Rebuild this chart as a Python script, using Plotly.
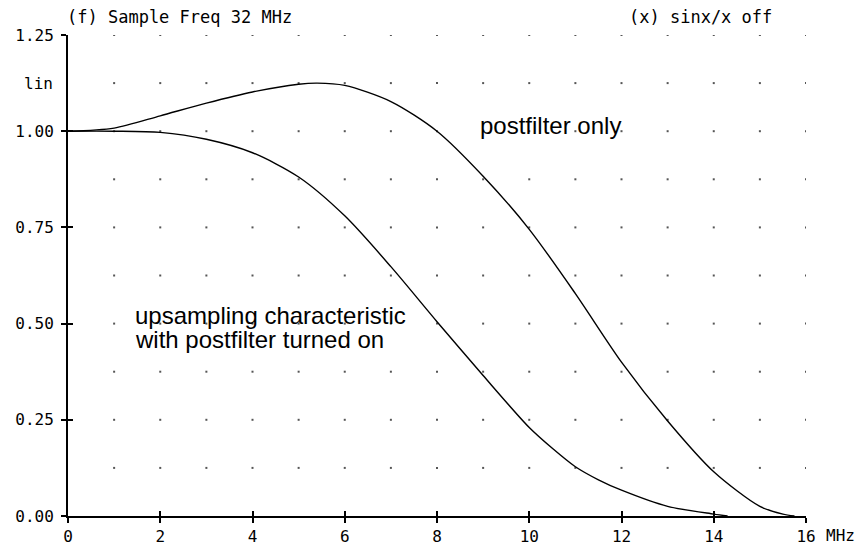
import numpy as np
import plotly.graph_objects as go

# --- data ---
freq_post = [0, 1, 2, 3, 4, 5, 5.4, 6, 7, 8, 9, 10, 11, 12, 13, 14, 15, 15.5, 15.75]
gain_post = [1.0, 1.008, 1.04, 1.073, 1.102, 1.122, 1.125, 1.119, 1.077, 1.0, 0.883,
             0.745, 0.578, 0.40, 0.247, 0.115, 0.025, 0.005, 0.0]

freq_up = [0, 1, 2, 3, 4, 5, 6, 7, 8, 9, 10, 10.5, 11, 11.5, 12, 13, 14, 14.3]
gain_up = [1.0, 1.0, 0.997, 0.979, 0.944, 0.881, 0.78, 0.648, 0.505, 0.365,
           0.23, 0.176, 0.128, 0.094, 0.067, 0.025, 0.005, 0.0]

x_ticks = [0, 2, 4, 6, 8, 10, 12, 14, 16]
y_ticks = [0.0, 0.25, 0.5, 0.75, 1.0, 1.25]
y_tick_text = ["0.00", "0.25", "0.50", "0.75", "1.00", "1.25"]
grid_x = list(range(1, 17))
grid_y = [0.125 * k for k in range(1, 11)]

mono = "DejaVu Sans Mono"
sans = "Liberation Sans, Arial, sans-serif"

fig = go.Figure()

gx, gy = np.meshgrid(grid_x, grid_y)
fig.add_trace(go.Scatter(x=gx.ravel(), y=gy.ravel(), mode="markers",
                         marker=dict(symbol="square", size=2, color="#555555",
                                     line=dict(width=0)),
                         hoverinfo="skip", showlegend=False))

fig.add_trace(go.Scatter(x=freq_post, y=gain_post, mode="lines",
                         line=dict(color="black", width=1.4, shape="spline", smoothing=0.8),
                         showlegend=False))
fig.add_trace(go.Scatter(x=freq_up, y=gain_up, mode="lines",
                         line=dict(color="black", width=1.4, shape="spline", smoothing=0.8),
                         showlegend=False))
# helper trace for the inner tick halves
fig.add_trace(go.Scatter(x=[None], y=[None], xaxis="x2", yaxis="y2",
                         showlegend=False, hoverinfo="skip"))

fig.update_layout(
    width=855, height=537,
    margin=dict(l=60, r=57, t=27, b=29, autoexpand=False),
    plot_bgcolor="white", paper_bgcolor="white",
    xaxis=dict(range=[0, 16], tickmode="array", tickvals=x_ticks,
               ticktext=[str(v) for v in x_ticks], automargin=False,
               ticks="outside", ticklen=5, tickwidth=1.5, tickcolor="black",
               showline=True, linecolor="black", linewidth=2,
               showgrid=False, zeroline=False,
               tickfont=dict(family=mono, size=16, color="black"),
               ticklabelstandoff=0),
    yaxis=dict(range=[0, 1.25], tickmode="array", tickvals=y_ticks,
               ticktext=y_tick_text, automargin=False,
               ticks="outside", ticklen=5, tickwidth=1.5, tickcolor="black",
               showline=True, linecolor="black", linewidth=2,
               showgrid=False, zeroline=False,
               tickfont=dict(family=mono, size=16, color="black"),
               ticklabelstandoff=4),
    xaxis2=dict(range=[0, 16], overlaying="x", anchor="y2", side="bottom",
                tickmode="array", tickvals=x_ticks, showticklabels=False,
                ticks="inside", ticklen=5, tickwidth=1.5, tickcolor="black",
                showline=False, showgrid=False, zeroline=False, automargin=False),
    yaxis2=dict(range=[0, 1.25], overlaying="y", anchor="x2", side="left",
                tickmode="array", tickvals=y_ticks, showticklabels=False,
                ticks="inside", ticklen=5, tickwidth=1.5, tickcolor="black",
                showline=False, showgrid=False, zeroline=False, automargin=False),
    annotations=[
        dict(text="(f) Sample Freq 32 MHz", xref="paper", yref="paper", x=0, y=1,
             xanchor="left", yanchor="bottom", xshift=-3, yshift=6, showarrow=False,
             font=dict(family=mono, size=17, color="black")),
        dict(text="(x) sinx/x off", xref="paper", yref="paper", x=(774 - 68) / 738, y=1,
             xanchor="right", yanchor="bottom", yshift=6, showarrow=False,
             font=dict(family=mono, size=17, color="black")),
        dict(text="lin", xref="paper", yref="y", x=0, y=1.125,
             xanchor="right", yanchor="middle", xshift=-13, showarrow=False,
             font=dict(family=mono, size=16, color="black")),
        dict(text="MHz", xref="paper", yref="paper", x=1, y=0,
             xanchor="left", yanchor="top", xshift=18, yshift=-8, showarrow=False,
             font=dict(family=mono, size=16, color="black")),
        dict(text="postfilter only", xref="x", yref="y", x=8.89, y=1.015,
             xanchor="left", yanchor="middle", showarrow=False,
             font=dict(family=sans, size=24, color="black")),
        dict(text="upsampling characteristic", xref="x", yref="y", x=1.41, y=0.522,
             xanchor="left", yanchor="middle", showarrow=False,
             font=dict(family=sans, size=24, color="black")),
        dict(text="with postfilter turned on", xref="x", yref="y", x=1.41, y=0.458,
             xanchor="left", yanchor="middle", showarrow=False,
             font=dict(family=sans, size=24, color="black")),
    ],
)

fig.write_html("out.html")
